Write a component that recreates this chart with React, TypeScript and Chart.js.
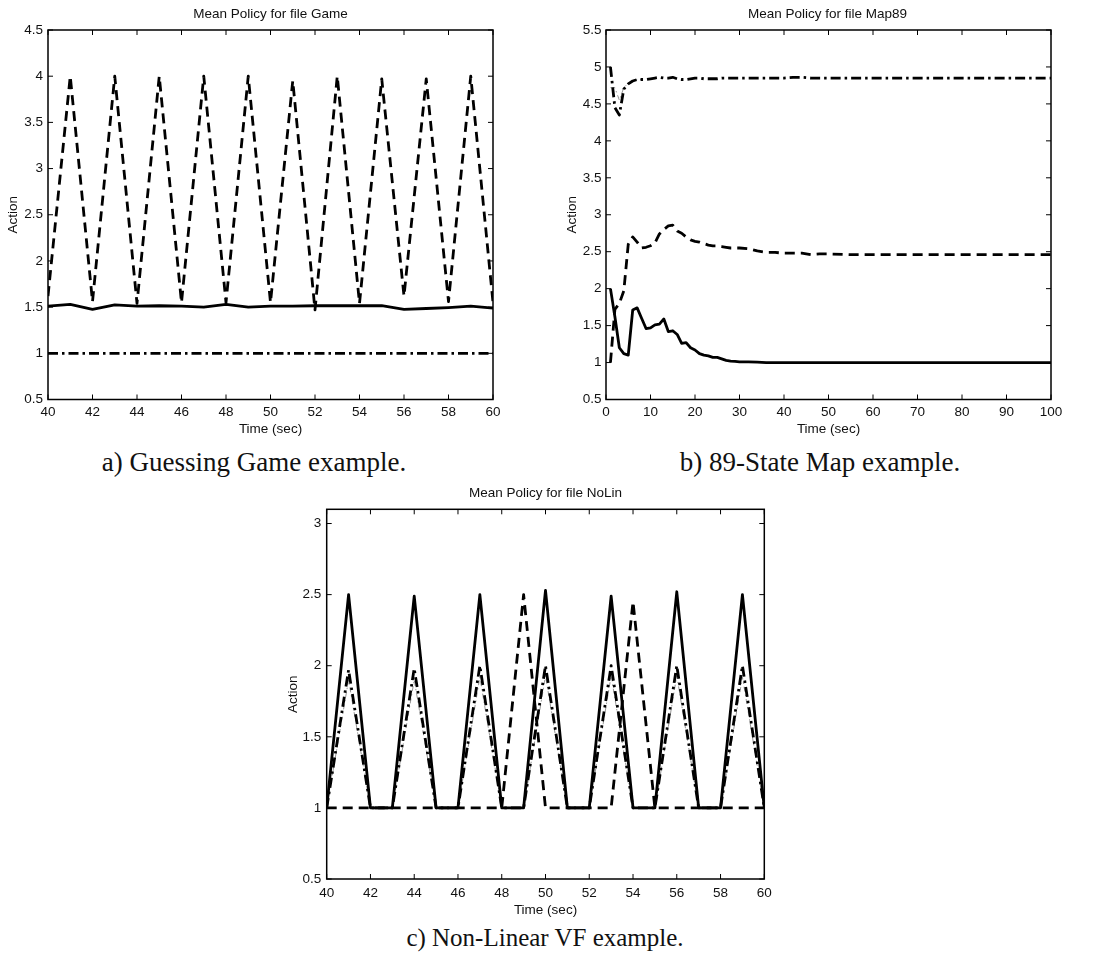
import React, { useEffect, useRef } from "react";
import { Chart, registerables } from "chart.js";

Chart.register(...registerables);

const SANS = "'Liberation Sans', Arial, Helvetica, sans-serif";
const SERIF = "'Liberation Serif', 'Times New Roman', serif";

// ---------- Panel a: Guessing Game ----------
const timeA = [40, 41, 42, 43, 44, 45, 46, 47, 48, 49, 50, 51, 52, 53, 54, 55, 56, 57, 58, 59, 60];
const solidA = [1.51, 1.53, 1.475, 1.525, 1.51, 1.515, 1.51, 1.5, 1.53, 1.5, 1.51, 1.51, 1.515, 1.515, 1.515, 1.515, 1.475, 1.485, 1.495, 1.51, 1.49];
const dashedA = [1.62, 4.0, 1.56, 4.0, 1.54, 4.0, 1.55, 4.0, 1.55, 4.0, 1.55, 3.95, 1.47, 4.0, 1.54, 3.97, 1.62, 3.97, 1.56, 4.0, 1.55];
const dashDotA = [1, 1, 1, 1, 1, 1, 1, 1, 1, 1, 1, 1, 1, 1, 1, 1, 1, 1, 1, 1, 1];
const xTicksA = [40, 42, 44, 46, 48, 50, 52, 54, 56, 58, 60];
const yTicksA = [0.5, 1, 1.5, 2, 2.5, 3, 3.5, 4, 4.5];

// ---------- Panel b: 89-State Map ----------
const timeB = [1, 2, 3, 4, 5, 6, 7, 8, 9, 10, 11, 12, 13, 14, 15, 16, 17, 18, 19, 20, 21, 22, 23, 24, 25, 26, 27, 28, 29, 30, 32, 34, 36, 38, 40, 42, 44, 46, 48, 50, 55, 60, 65, 70, 75, 80, 85, 90, 95, 100];
const solidB = [2.0, 1.62, 1.2, 1.12, 1.1, 1.71, 1.74, 1.6, 1.46, 1.47, 1.51, 1.52, 1.59, 1.42, 1.43, 1.38, 1.26, 1.27, 1.2, 1.17, 1.12, 1.1, 1.09, 1.07, 1.07, 1.05, 1.03, 1.02, 1.015, 1.01, 1.01, 1.005, 1.0, 1.0, 1.0, 1.0, 1.0, 1.0, 1.0, 1.0, 1.0, 1.0, 1.0, 1.0, 1.0, 1.0, 1.0, 1.0, 1.0, 1.0];
const dashedB = [1.0, 1.72, 1.8, 1.97, 2.6, 2.7, 2.63, 2.55, 2.56, 2.58, 2.62, 2.74, 2.8, 2.85, 2.86, 2.78, 2.75, 2.7, 2.66, 2.64, 2.63, 2.61, 2.59, 2.58, 2.58, 2.57, 2.56, 2.55, 2.55, 2.55, 2.54, 2.51, 2.49, 2.49, 2.48, 2.48, 2.48, 2.46, 2.47, 2.47, 2.46, 2.46, 2.46, 2.46, 2.46, 2.46, 2.46, 2.46, 2.46, 2.46];
const dashDotB = [5.0, 4.45, 4.35, 4.7, 4.77, 4.81, 4.83, 4.83, 4.83, 4.84, 4.85, 4.86, 4.85, 4.85, 4.86, 4.84, 4.83, 4.83, 4.84, 4.85, 4.85, 4.84, 4.84, 4.84, 4.84, 4.85, 4.85, 4.85, 4.85, 4.85, 4.85, 4.85, 4.85, 4.85, 4.85, 4.86, 4.86, 4.85, 4.85, 4.85, 4.85, 4.85, 4.85, 4.85, 4.85, 4.85, 4.85, 4.85, 4.85, 4.85];
const thinTimeB = [1, 2, 3, 4, 5, 6, 7, 8];
const thinB = [4.72, 4.72, 4.55, 4.72, 4.78, 4.81, 4.83, 4.83];
const xTicksB = [0, 10, 20, 30, 40, 50, 60, 70, 80, 90, 100];
const yTicksB = [0.5, 1, 1.5, 2, 2.5, 3, 3.5, 4, 4.5, 5, 5.5];

// ---------- Panel c: Non-Linear VF ----------
const timeC = [40, 41, 42, 43, 44, 45, 46, 47, 48, 49, 50, 51, 52, 53, 54, 55, 56, 57, 58, 59, 60];
const solidC = [1.0, 2.5, 1.0, 1.0, 2.49, 1.0, 1.0, 2.5, 1.0, 1.0, 2.53, 1.0, 1.0, 2.49, 1.0, 1.0, 2.52, 1.0, 1.0, 2.5, 1.0];
const dashedC = [1.0, 1.0, 1.0, 1.0, 1.0, 1.0, 1.0, 1.0, 1.0, 2.5, 1.0, 1.0, 1.0, 1.0, 2.45, 1.0, 1.0, 1.0, 1.0, 1.0, 1.0];
const dashDotC = [1.0, 1.97, 1.0, 1.0, 1.98, 1.0, 1.0, 2.0, 1.0, 1.0, 2.0, 1.0, 1.0, 2.0, 1.0, 1.0, 2.0, 1.0, 1.0, 2.0, 1.0];
const thinC = [1.0, 1.9, 1.0, 1.0, 1.9, 1.0, 1.0, 1.92, 1.0, 1.0, 1.93, 1.0, 1.0, 1.93, 1.0, 1.0, 1.93, 1.0, 1.0, 1.92, 1.0];
const xTicksC = [40, 42, 44, 46, 48, 50, 52, 54, 56, 58, 60];
const yTicksC = [0.5, 1, 1.5, 2, 2.5, 3];

const fmt = (v: number) => String(Math.round(v * 100) / 100);

const STYLES: Record<string, any> = {
  solid: { borderColor: "#000", borderWidth: 2.8, borderDash: [] },
  dashed: { borderColor: "#000", borderWidth: 2.8, borderDash: [10, 6] },
  dashDot: { borderColor: "#000", borderWidth: 2.8, borderDash: [10, 4, 2.5, 4] },
  thin: { borderColor: "#8a8a8a", borderWidth: 0.9, borderDash: [5, 3, 1.5, 3] },
};

function series(xs: number[], ys: number[], style: string) {
  return {
    data: xs.map((x, i) => ({ x, y: ys[i] })),
    ...STYLES[style],
    pointRadius: 0,
    pointHoverRadius: 0,
    tension: 0,
    fill: false,
    borderJoinStyle: "round",
    borderCapStyle: "butt",
  };
}

const boxTicks = {
  id: "boxTicks",
  afterDraw(chart: any) {
    const { ctx, chartArea } = chart;
    const { left, right, top, bottom } = chartArea;
    const x = chart.scales.x;
    const y = chart.scales.y;
    const L = 5;
    ctx.save();
    ctx.strokeStyle = "#000";
    ctx.lineWidth = 1;
    ctx.beginPath();
    x.ticks.forEach((t: any) => {
      const px = x.getPixelForValue(t.value);
      ctx.moveTo(px, bottom);
      ctx.lineTo(px, bottom - L);
      ctx.moveTo(px, top);
      ctx.lineTo(px, top + L);
    });
    y.ticks.forEach((t: any) => {
      const py = y.getPixelForValue(t.value);
      ctx.moveTo(left, py);
      ctx.lineTo(left + L, py);
      ctx.moveTo(right, py);
      ctx.lineTo(right - L, py);
    });
    ctx.stroke();
    ctx.lineWidth = 1.5;
    ctx.strokeRect(left, top, right - left, bottom - top);
    ctx.restore();
  },
};

type PanelSpec = {
  title: string;
  titlePad: { top: number; bottom: number };
  xMin: number;
  xMax: number;
  xTicks: number[];
  yMin: number;
  yMax: number;
  yTicks: number[];
  datasets: () => any[];
  leftW: number;
  rightW: number;
  bottomH: number;
  yTitlePad: number;
  xTickPad: number;
  yTickPad: number;
  left: number;
  top: number;
  width: number;
  height: number;
};

const FS = 13.5;

function makeConfig(p: PanelSpec): any {
  const tickFont = { family: SANS, size: FS };
  const noGrid = { display: false, drawTicks: false, tickLength: 0 };
  return {
    type: "line",
    data: { datasets: p.datasets() },
    options: {
      animation: false,
      responsive: false,
      maintainAspectRatio: false,
      devicePixelRatio: 1,
      layout: { padding: 0 },
      events: [],
      plugins: {
        legend: { display: false },
        tooltip: { enabled: false },
        title: {
          display: true,
          text: p.title,
          color: "#111",
          font: { family: SANS, size: FS, weight: "normal" },
          padding: p.titlePad,
        },
      },
      scales: {
        x: {
          type: "linear",
          min: p.xMin,
          max: p.xMax,
          grid: noGrid,
          border: { display: false },
          afterBuildTicks: (s: any) => {
            s.ticks = p.xTicks.map((v) => ({ value: v }));
          },
          afterFit: (s: any) => {
            s.height = p.bottomH;
          },
          ticks: {
            color: "#111",
            font: tickFont,
            padding: p.xTickPad,
            autoSkip: false,
            maxRotation: 0,
            callback: (v: number) => fmt(v),
          },
          title: {
            display: true,
            text: "Time (sec)",
            color: "#111",
            font: tickFont,
            padding: { top: 0, bottom: 0 },
          },
        },
        y: {
          type: "linear",
          position: "left",
          min: p.yMin,
          max: p.yMax,
          grid: noGrid,
          border: { display: false },
          afterBuildTicks: (s: any) => {
            s.ticks = p.yTicks.map((v) => ({ value: v }));
          },
          afterFit: (s: any) => {
            s.width = p.leftW;
          },
          ticks: {
            color: "#111",
            font: tickFont,
            padding: p.yTickPad,
            autoSkip: false,
            callback: (v: number) => fmt(v),
          },
          title: {
            display: true,
            text: "Action",
            color: "#111",
            font: tickFont,
            padding: { top: p.yTitlePad, bottom: 0 },
          },
        },
        y2: {
          type: "linear",
          position: "right",
          display: true,
          grid: noGrid,
          border: { display: false },
          ticks: { display: false },
          afterFit: (s: any) => {
            s.width = p.rightW;
          },
        },
      },
    },
    plugins: [boxTicks],
  };
}

const panelA: PanelSpec = {
  title: "Mean Policy for file Game",
  titlePad: { top: 5.9, bottom: 7.9 },
  xMin: 40,
  xMax: 60,
  xTicks: xTicksA,
  yMin: 0.5,
  yMax: 4.5,
  yTicks: yTicksA,
  datasets: () => [
    series(timeA, solidA, "solid"),
    series(timeA, dashedA, "dashed"),
    series(timeA, dashDotA, "dashDot"),
  ],
  leftW: 48,
  rightW: 48,
  bottomH: 37.5,
  yTitlePad: 5.4,
  xTickPad: 5.1,
  yTickPad: 5,
  left: 0,
  top: 0,
  width: 541,
  height: 437,
};

const panelB: PanelSpec = {
  title: "Mean Policy for file Map89",
  titlePad: { top: 5.9, bottom: 7.9 },
  xMin: 0,
  xMax: 100,
  xTicks: xTicksB,
  yMin: 0.5,
  yMax: 5.5,
  yTicks: yTicksB,
  datasets: () => [
    series(timeB, solidB, "solid"),
    series(timeB, dashedB, "dashed"),
    series(timeB, dashDotB, "dashDot"),
    series(thinTimeB, thinB, "thin"),
  ],
  leftW: 46,
  rightW: 44,
  bottomH: 37.5,
  yTitlePad: 4.2,
  xTickPad: 5.1,
  yTickPad: 4.5,
  left: 560,
  top: 0,
  width: 535,
  height: 437,
};

const panelC: PanelSpec = {
  title: "Mean Policy for file NoLin",
  titlePad: { top: 6.9, bottom: 8.2 },
  xMin: 40,
  xMax: 60,
  xTicks: xTicksC,
  yMin: 0.5,
  yMax: 3.1,
  yTicks: yTicksC,
  datasets: () => [
    series(timeC, solidC, "solid"),
    series(timeC, dashedC, "dashed"),
    series(timeC, dashDotC, "dashDot"),
    series(timeC, thinC, "thin"),
  ],
  leftW: 48.7,
  rightW: 48.7,
  bottomH: 39,
  yTitlePad: 7.2,
  xTickPad: 5.9,
  yTickPad: 5.5,
  left: 278,
  top: 478,
  width: 535,
  height: 440,
};

function ChartPanel({ spec }: { spec: PanelSpec }) {
  const ref = useRef<HTMLCanvasElement>(null);
  useEffect(() => {
    const chart = new Chart(ref.current as HTMLCanvasElement, makeConfig(spec));
    return () => chart.destroy();
  }, [spec]);
  return (
    <canvas
      ref={ref}
      width={spec.width}
      height={spec.height}
      style={{ position: "absolute", left: spec.left, top: spec.top, width: spec.width, height: spec.height }}
    />
  );
}

function Caption({ text, center, top, size }: { text: string; center: number; top: number; size: number }) {
  return (
    <div
      style={{
        position: "absolute",
        left: center - 250,
        width: 500,
        top,
        textAlign: "center",
        fontFamily: SERIF,
        fontSize: size,
        lineHeight: `${size}px`,
        color: "#111",
        whiteSpace: "nowrap",
      }}
    >
      {text}
    </div>
  );
}

export default function App() {
  return (
    <div
      style={{
        position: "absolute",
        left: 0,
        top: 0,
        width: 1095,
        height: 956,
        overflow: "hidden",
        background: "#fff",
      }}
    >
      <ChartPanel spec={panelA} />
      <ChartPanel spec={panelB} />
      <ChartPanel spec={panelC} />
      <Caption text="a) Guessing Game example." center={254} top={449} size={27} />
      <Caption text="b) 89-State Map example." center={820} top={449} size={27} />
      <Caption text="c) Non-Linear VF example." center={545} top={925} size={25} />
    </div>
  );
}
